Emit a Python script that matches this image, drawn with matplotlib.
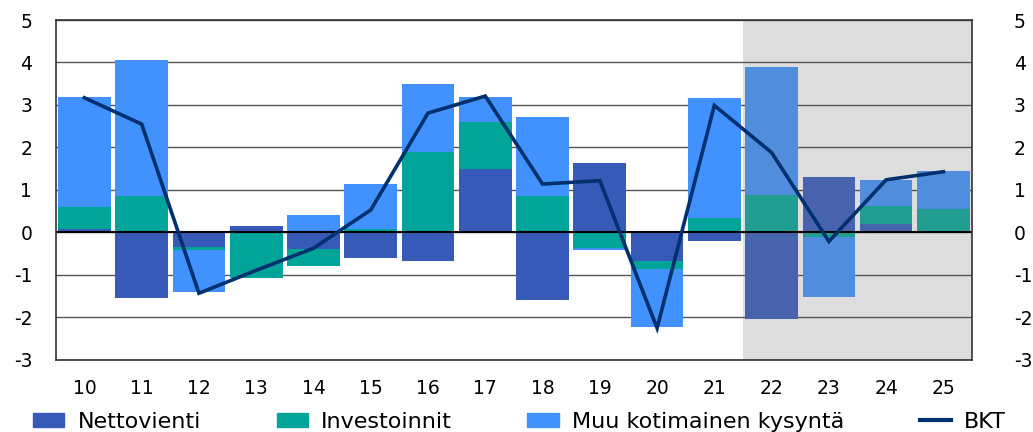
import numpy as np
import matplotlib
matplotlib.use('Agg')
import matplotlib.pyplot as plt
from matplotlib.patches import Patch
from matplotlib.lines import Line2D

# Kasvun osatekijät, %-yksikköä
years = ['10', '11', '12', '13', '14', '15', '16', '17', '18', '19', '20', '21', '22', '23', '24', '25']
netto = [0.08, -1.53, -0.34, 0.16, -0.38, -0.60, -0.68, 1.50, -1.58, 1.63, -0.67, -0.21, -2.03, 1.30, 0.19, 0.0]
inv = [0.53, 0.85, -0.07, -1.08, -0.42, 0.09, 1.90, 1.09, 0.85, -0.37, -0.19, 0.34, 0.89, -0.11, 0.44, 0.56]
muu = [2.58, 3.22, -0.99, 0.0, 0.42, 1.05, 1.60, 0.60, 1.87, -0.05, -1.37, 2.83, 3.00, -1.41, 0.61, 0.88]
bkt = [3.17, 2.55, -1.43, -0.89, -0.37, 0.53, 2.81, 3.21, 1.14, 1.22, -2.25, 2.99, 1.88, -0.21, 1.24, 1.43]
n_forecast = 4  # 22-25 ennuste

c_netto, c_inv, c_muu = '#3759B8', '#00A499', '#4191FF'
c_netto_f, c_inv_f, c_muu_f = '#4763AD', '#219D92', '#508EDD'
c_bkt = '#00306E'

plt.rcParams['font.family'] = ['DejaVu Sans']
plt.rcParams['axes.unicode_minus'] = False

fig = plt.figure(figsize=(10.33, 4.32), dpi=100)
ax = fig.add_axes([0.054, 0.1667, 0.887, 0.787])

x = np.arange(len(years))
n = len(years)
fc = lambda a, b: [a] * (n - n_forecast) + [b] * n_forecast

pos_base = np.zeros(n)
neg_base = np.zeros(n)
for vals, cols in [(netto, fc(c_netto, c_netto_f)),
                   (inv, fc(c_inv, c_inv_f)),
                   (muu, fc(c_muu, c_muu_f))]:
    v = np.array(vals)
    base = np.where(v >= 0, pos_base, neg_base)
    ax.bar(x, v, width=0.92, bottom=base, color=cols, zorder=2,
           edgecolor='none')
    pos_base += np.where(v >= 0, v, 0)
    neg_base += np.where(v < 0, v, 0)

ax.plot(x, bkt, color=c_bkt, lw=2.6, zorder=4, solid_joinstyle='miter')

ax.axvspan(n - n_forecast - 0.5, n - 0.5, color='#DDDDDD', zorder=0, lw=0)
for yv in range(-3, 6):
    ax.axhline(yv, color='#555555', lw=1.0, zorder=1)
ax.axhline(0, color='black', lw=1.5, zorder=3)

ax.set_xlim(-0.5, n - 0.5)
ax.set_ylim(-3, 5)
ax.set_yticks(range(-3, 6))
ax.set_xticks(x)
ax.set_xticklabels(years)
ax.tick_params(axis='x', length=0, pad=14, labelsize=13.5)
ax.tick_params(axis='y', length=0, pad=17, labelsize=13.5)
for s in ax.spines.values():
    s.set_color('#333333')
    s.set_linewidth(1.2)
    s.set_zorder(5)

# oikean akselin tekstit vasemmalle tasattuina
ax2 = ax.twinx()
ax2.set_ylim(-3, 5)
ax2.set_yticks(range(-3, 6))
ax2.tick_params(axis='y', length=0, pad=30, labelsize=13.5)
for s in ax2.spines.values():
    s.set_visible(False)

handles = [Patch(color=c_netto), Patch(color=c_inv), Patch(color=c_muu),
           Line2D([], [], color=c_bkt, lw=3)]
labels = ['Nettovienti', 'Investoinnit', 'Muu kotimainen kysyntä', 'BKT']
fig.legend(handles, labels, loc='lower center', bbox_to_anchor=(0.503, -0.02),
           ncol=4, frameon=False, fontsize=16, handlelength=1.4,
           handleheight=0.65, handletextpad=0.6, columnspacing=3.4,
           borderaxespad=0)

fig.savefig('out.png', dpi=100)
